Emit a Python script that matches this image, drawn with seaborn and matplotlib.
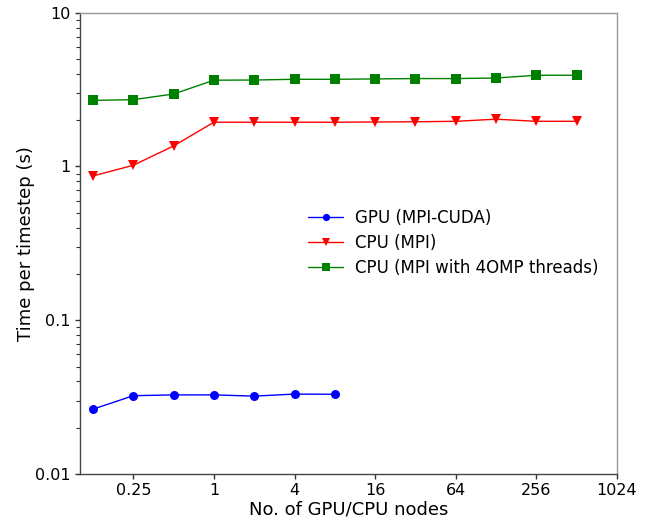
import matplotlib
matplotlib.use("Agg")
import matplotlib.pyplot as plt
import matplotlib.ticker as mticker
import numpy as np
import pandas as pd
import seaborn as sns

nodes = [0.125, 0.25, 0.5, 1, 2, 4, 8, 16, 32, 64, 128, 256, 512]
gpu_nodes = nodes[:7]
gpu_time = [0.0264, 0.0323, 0.0327, 0.0327, 0.0321, 0.0331, 0.0330]
cpu_mpi = [0.868, 1.018, 1.36, 1.94, 1.94, 1.94, 1.94, 1.947, 1.953, 1.967, 2.03, 1.967, 1.967]
cpu_omp = [2.69, 2.72, 2.96, 3.64, 3.65, 3.69, 3.69, 3.71, 3.73, 3.73, 3.76, 3.92, 3.92]
series_names = ["GPU (MPI-CUDA)", "CPU (MPI)", "CPU (MPI with 4OMP threads)"]
xtick_vals = [0.25, 1, 4, 16, 64, 256, 1024]
xtick_labels = ["0.25", "1", "4", "16", "64", "256", "1024"]
ytick_vals = [0.01, 0.1, 1, 10]
ytick_labels = ["0.01", "0.1", "1", "10"]

df = pd.concat([
    pd.DataFrame({"nodes": gpu_nodes, "time": gpu_time, "series": series_names[0]}),
    pd.DataFrame({"nodes": nodes, "time": cpu_mpi, "series": series_names[1]}),
    pd.DataFrame({"nodes": nodes, "time": cpu_omp, "series": series_names[2]}),
], ignore_index=True)

sns.set_style("ticks")
plt.rcParams['font.family'] = ['DejaVu Sans']
plt.rcParams['text.color'] = 'black'
plt.rcParams['axes.labelcolor'] = 'black'
plt.rcParams['xtick.color'] = 'black'
plt.rcParams['ytick.color'] = 'black'

fig = plt.figure(figsize=(6.57, 5.21), dpi=100)
ax = fig.add_axes([0.1218, 0.0902, 0.8172, 0.8854])

palette = {series_names[0]: "blue", series_names[1]: "red", series_names[2]: "green"}
markers = {series_names[0]: "o", series_names[1]: "v", series_names[2]: "s"}
sns.lineplot(data=df, x="nodes", y="time", hue="series", style="series",
             hue_order=series_names, style_order=series_names,
             palette=palette, markers=markers, dashes=False,
             markersize=6.5, markeredgewidth=0, linewidth=1.0, ax=ax)

ax.set_xscale("log", base=2)
ax.set_yscale("log")
ax.set_xlim(0.1, 1024)
ax.set_ylim(0.01, 10)
ax.xaxis.set_major_locator(mticker.FixedLocator(xtick_vals))
ax.xaxis.set_major_formatter(mticker.FixedFormatter(xtick_labels))
ax.xaxis.set_minor_locator(mticker.NullLocator())
ax.yaxis.set_major_locator(mticker.FixedLocator(ytick_vals))
ax.yaxis.set_major_formatter(mticker.FixedFormatter(ytick_labels))
ax.yaxis.set_minor_locator(mticker.LogLocator(base=10, subs=np.arange(2, 10)))
ax.yaxis.set_minor_formatter(mticker.NullFormatter())

ax.tick_params(axis="both", which="major", labelsize=11.5, length=3.5, width=1,
               color="#333333", labelcolor="black", pad=3)
ax.tick_params(axis="y", which="minor", length=3, width=0.8, color="#333333")

for s in ["left", "bottom"]:
    ax.spines[s].set_color("#444444")
    ax.spines[s].set_linewidth(1.0)
for s in ["top", "right"]:
    ax.spines[s].set_visible(True)
    ax.spines[s].set_color("#999999")
    ax.spines[s].set_linewidth(1.0)

ax.set_xlabel("No. of GPU/CPU nodes", fontsize=13, labelpad=2, color="black")
ax.set_ylabel("Time per timestep (s)", fontsize=13, labelpad=0, color="black")

leg = ax.legend(loc="upper left", bbox_to_anchor=(0.397, 0.607), frameon=False,
                fontsize=12, handlelength=2.1, handletextpad=0.7,
                labelspacing=0.42, markerscale=0.8)
for t in leg.get_texts():
    t.set_color("black")

fig.savefig("out.png", dpi=100)
